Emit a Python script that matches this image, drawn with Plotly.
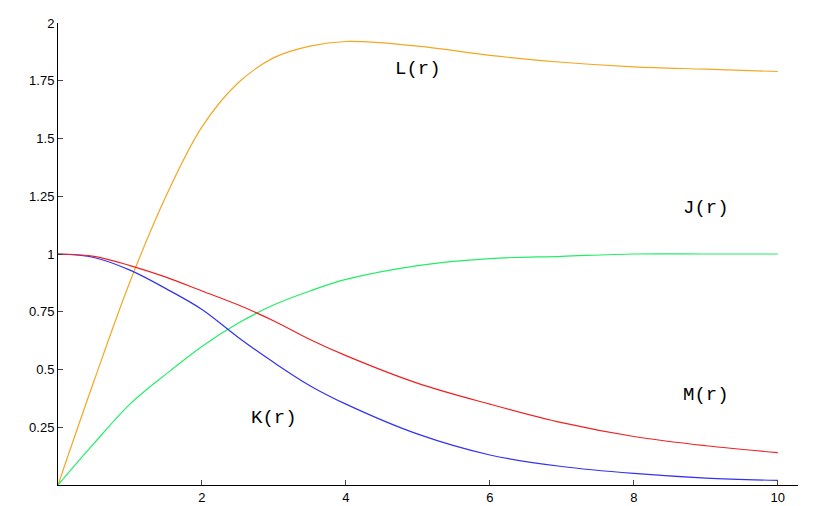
import plotly.graph_objects as go

r = [0, 0.5, 1, 1.5, 2, 2.5, 3, 3.5, 4, 5, 6, 7, 8, 9, 10]
L_vals = [0, 0.45, 0.88, 1.25, 1.55, 1.74, 1.85, 1.9, 1.92, 1.9, 1.86, 1.83, 1.81, 1.80, 1.79]
J_vals = [0, 0.18, 0.35, 0.48, 0.60, 0.70, 0.78, 0.84, 0.89, 0.95, 0.98, 0.99, 1.0, 1.0, 1.0]
K_vals = [1, 0.985, 0.93, 0.85, 0.76, 0.64, 0.53, 0.43, 0.35, 0.22, 0.13, 0.08, 0.05, 0.03, 0.02]
M_vals = [1, 0.99, 0.95, 0.9, 0.84, 0.78, 0.71, 0.63, 0.56, 0.44, 0.35, 0.27, 0.21, 0.17, 0.14]

y_ticks = [0.25, 0.5, 0.75, 1, 1.25, 1.5, 1.75, 2]
y_labels = ["0.25", "0.5", "0.75", "1", "1.25", "1.5", "1.75", "2"]
x_ticks = [2, 4, 6, 8, 10]

fig = go.Figure()
for vals, color in [(L_vals, "#f5a623"), (J_vals, "#22ee66"), (K_vals, "#3333ee"), (M_vals, "#ee2222")]:
    fig.add_trace(go.Scatter(x=r, y=vals, mode="lines", line=dict(color=color, width=1.2, shape="spline", smoothing=1.0)))

labels = [(5.0, 1.8, "L(r)"), (9.0, 1.2, "J(r)"), (3.0, 0.29, "K(r)"), (9.0, 0.39, "M(r)")]
for x, y, t in labels:
    fig.add_annotation(x=x, y=y, text=t, showarrow=False, font=dict(family="Liberation Mono", size=19, color="black"))
fig.add_annotation(x=1.0, xref="paper", y=0, yref="y", text="r", showarrow=False, xanchor="left",
                   yanchor="bottom", xshift=12, yshift=3, font=dict(family="Liberation Sans", size=13))

fig.update_layout(
    width=818, height=506, showlegend=False,
    plot_bgcolor="white", paper_bgcolor="white",
    margin=dict(l=50, r=28, t=8, b=29),
    font=dict(family="Liberation Sans", size=13, color="black"),
)
fig.update_xaxes(range=[0, 10.28], tickvals=x_ticks, showgrid=False, zeroline=False,
                 showline=True, linecolor="black", linewidth=1, ticks="inside", ticklen=5)
fig.update_yaxes(range=[0, 2], tickvals=y_ticks, ticktext=y_labels, showgrid=False, zeroline=False,
                 showline=True, linecolor="black", linewidth=1, ticks="inside", ticklen=5)

fig.write_html("out.html")
